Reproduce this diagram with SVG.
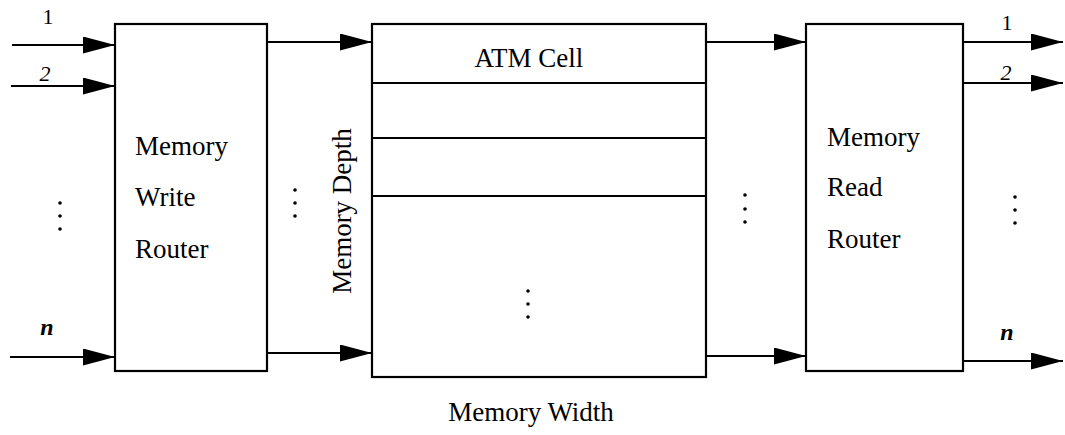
<svg xmlns="http://www.w3.org/2000/svg" width="1065" height="435" viewBox="0 0 1065 435">
<style>
.box{fill:#fff;stroke:#000;stroke-width:2.2}
.ln{stroke:#000;stroke-width:2.2;fill:none}
.wire{stroke:#000;stroke-width:2.2;fill:none;marker-end:url(#ah)}
.t{font-family:"Liberation Serif","Times New Roman",serif;font-size:27px;fill:#000}
.lbl{font-family:"Liberation Serif","Times New Roman",serif;font-size:22px;fill:#000}
.it{font-style:italic}
.n{font-style:italic;font-weight:bold;font-size:24px}
.dot{fill:#000}
</style>
<defs>
<marker id="ah" markerUnits="userSpaceOnUse" markerWidth="34" markerHeight="18" refX="32" refY="8.5" orient="auto">
<path d="M0,0 L32,8.5 L0,17 z" fill="#000"/>
</marker>
</defs>
<g id="connectors">
<path class="wire" d="M12,45 H115"/>
<path class="wire" d="M11,86 H115"/>
<path class="wire" d="M10,357 H115"/>
<path class="wire" d="M267,42 H372"/>
<path class="wire" d="M267,353 H372"/>
<path class="wire" d="M706,42 H806"/>
<path class="wire" d="M706,356 H806"/>
<path class="wire" d="M963,42 H1063"/>
<path class="wire" d="M963,83 H1063"/>
<path class="wire" d="M963,361 H1063"/>
</g>
<g id="input-labels">
<text class="lbl" x="48" y="24" text-anchor="middle" font-size="23">1</text>
<text class="lbl it" x="45" y="81" text-anchor="middle">2</text>
<text class="lbl n" x="47" y="335" text-anchor="middle">n</text>
<circle class="dot" cx="60" cy="203" r="1.8"/>
<circle class="dot" cx="60" cy="216" r="1.8"/>
<circle class="dot" cx="60" cy="229" r="1.8"/>
</g>
<g id="write-router">
<rect class="box" x="115" y="24" width="152" height="347"/>
<text class="t" x="135" y="155">Memory</text>
<text class="t" x="135" y="206">Write</text>
<text class="t" x="135" y="258">Router</text>
</g>
<g id="write-dots">
<circle class="dot" cx="295" cy="190" r="1.8"/>
<circle class="dot" cx="295" cy="203" r="1.8"/>
<circle class="dot" cx="295" cy="216" r="1.8"/>
</g>
<g id="memory">
<rect class="box" x="372" y="24" width="334" height="353"/>
<path class="ln" d="M372,83 H707 M372,138 H706 M372,196 H706"/>
<text class="t" x="529" y="67" text-anchor="middle">ATM Cell</text>
<circle class="dot" cx="528" cy="291" r="1.8"/>
<circle class="dot" cx="528" cy="304" r="1.8"/>
<circle class="dot" cx="528" cy="317" r="1.8"/>
<text class="t" transform="translate(351,211) rotate(-90)" text-anchor="middle" font-size="28">Memory Depth</text>
<text class="t" x="531" y="421" text-anchor="middle">Memory Width</text>
</g>
<g id="read-dots">
<circle class="dot" cx="745" cy="195" r="1.8"/>
<circle class="dot" cx="745" cy="209" r="1.8"/>
<circle class="dot" cx="745" cy="222" r="1.8"/>
</g>
<g id="read-router">
<rect class="box" x="806" y="24" width="157" height="347"/>
<text class="t" x="827" y="146">Memory</text>
<text class="t" x="827" y="196">Read</text>
<text class="t" x="827" y="248">Router</text>
</g>
<g id="output-labels">
<text class="lbl" x="1007" y="30" text-anchor="middle" font-size="23">1</text>
<text class="lbl it" x="1006" y="80" text-anchor="middle">2</text>
<text class="lbl n" x="1007" y="340" text-anchor="middle">n</text>
<circle class="dot" cx="1015" cy="197" r="1.8"/>
<circle class="dot" cx="1015" cy="210" r="1.8"/>
<circle class="dot" cx="1015" cy="223" r="1.8"/>
</g>
</svg>
